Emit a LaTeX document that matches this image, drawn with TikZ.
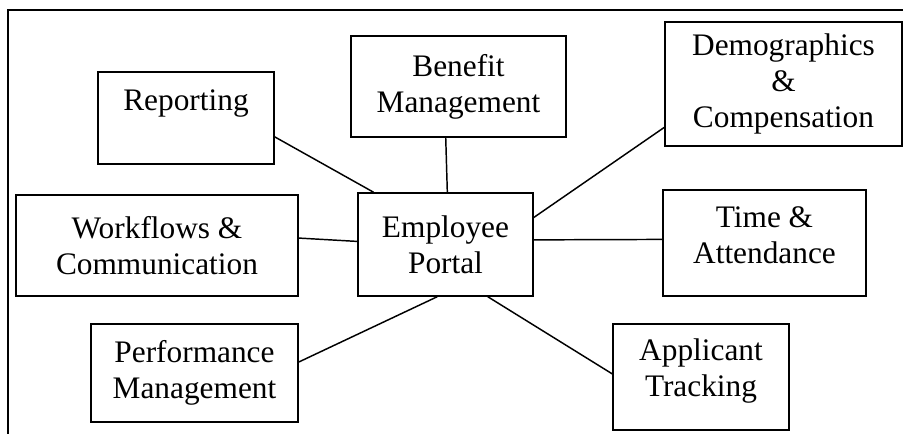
\documentclass[tikz,border=0pt]{standalone}
\usepackage{fontspec}
\setmainfont{Liberation Serif}
\begin{document}
\begin{tikzpicture}[x=0.75pt,y=0.75pt,yscale=-1,xscale=1,
  box/.style={draw, line width=1.1pt, inner sep=0.75pt, align=center,
    font=\fontsize{23.5}{27}\selectfont},
  link/.style={line width=1.1pt}]
\useasboundingbox (0,0) rectangle (903,434);
%Shape: Frame
\draw [line width=0.8pt] (903,10) -- (8,10) -- (8,434);
%Shape: Rectangle
\node [box, minimum width=176*0.75pt, minimum height=92*0.75pt] (rep) at (186,118) {Reporting\\~};
%Shape: Rectangle
\node [box, minimum width=215*0.75pt, minimum height=101*0.75pt] (ben) at (458.5,86.5) {Benefit\\Management};
%Shape: Rectangle
\node [box, minimum width=237*0.75pt, minimum height=124*0.75pt] (dem) at (783.5,84) {Demographics\\\&\\Compensation};
%Shape: Rectangle
\node [box, minimum width=282*0.75pt, minimum height=101*0.75pt] (wf) at (157,245.5) {Workflows \&\\Communication};
%Shape: Rectangle
\node [box, minimum width=175*0.75pt, minimum height=103*0.75pt] (emp) at (445.5,244.5) {Employee\\Portal};
%Shape: Rectangle
\node [box, minimum width=203*0.75pt, minimum height=106*0.75pt] (time) at (764.5,243) {Time \&\\Attendance\rule[-12pt]{0pt}{0pt}};
%Shape: Rectangle
\node [box, minimum width=207*0.75pt, minimum height=98*0.75pt] (perf) at (194.5,373) {Performance\\Management};
%Shape: Rectangle
\node [box, minimum width=176*0.75pt, minimum height=106*0.75pt] (app) at (701,377) {Applicant\\Tracking\rule[-14pt]{0pt}{0pt}};
%Straight Lines
\draw [link] (rep.-12) -- (emp.144) ;
\draw [link] (ben.-104) -- (emp.88) ;
\draw [link] (dem.-160) -- (emp.17) ;
\draw [link] (wf.3) -- (emp.178) ;
\draw [link] (emp.3) -- (time.178) ;
\draw [link] (perf.6) -- (emp.-99) ;
\draw [link] (emp.-51) -- (app.178) ;
\end{tikzpicture}
\end{document}
